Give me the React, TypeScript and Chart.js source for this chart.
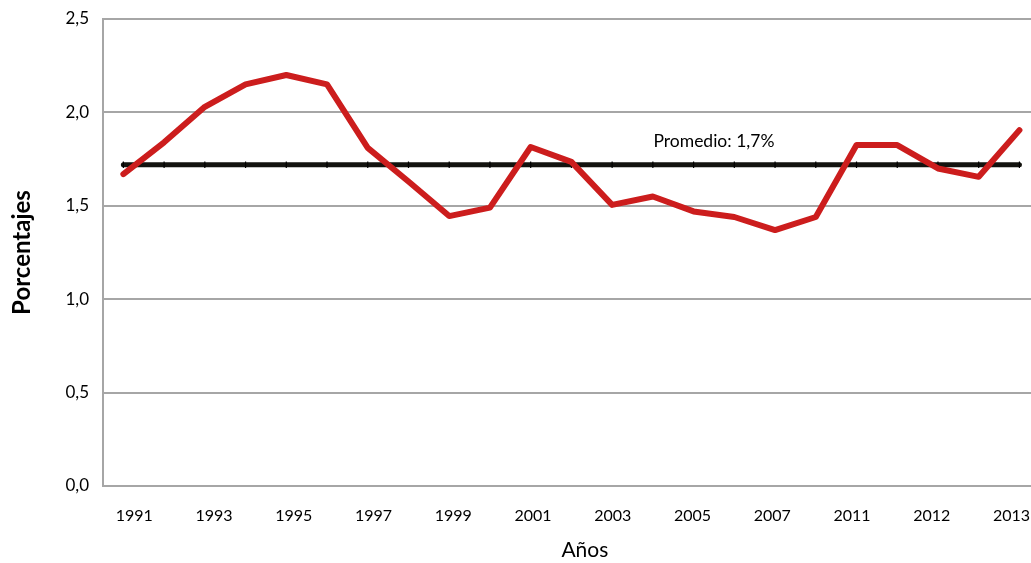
import React, { useEffect, useRef } from 'react';
import { Chart, registerables } from 'chart.js';

Chart.register(...registerables);

const categories = [
  '1991', '1992', '1993', '1994', '1995', '1996', '1997', '1998', '1999', '2000',
  '2001', '2002', '2003', '2004', '2005', '2006', '2007', '2008', '2011', '2011',
  '2012', '2012', '2013',
];

const tasaValues = [
  1.67, 1.84, 2.03, 2.15, 2.2, 2.15, 1.81, 1.63, 1.445, 1.49,
  1.815, 1.735, 1.505, 1.55, 1.47, 1.44, 1.37, 1.44, 1.825, 1.825,
  1.7, 1.655, 1.905,
];

const promedioValues = [
  1.72, 1.72, 1.72, 1.72, 1.72, 1.72, 1.72, 1.72, 1.72, 1.72,
  1.72, 1.72, 1.72, 1.72, 1.72, 1.72, 1.72, 1.72, 1.72, 1.72,
  1.72, 1.72, 1.72,
];

const yearTickLabels = [
  '1991', '1993', '1995', '1997', '1999', '2001', '2003', '2005', '2007', '2011', '2012', '2013',
];

const promedioLabel = 'Promedio: 1,7%';
const promedioLabelValue = 1.845;
const promedioLabelIndex = 14.5;
const xTitle = 'Años';

const FONT = 'Lato';

const labelPlugin = {
  id: 'promedioLabel',
  afterDatasetsDraw(chart: any) {
    const { ctx, scales } = chart;
    const i0 = Math.floor(promedioLabelIndex);
    const frac = promedioLabelIndex - i0;
    const x =
      scales.x.getPixelForValue(i0) * (1 - frac) + scales.x.getPixelForValue(i0 + 1) * frac;
    const y = scales.y.getPixelForValue(promedioLabelValue);
    ctx.save();
    ctx.font = `17.5px ${FONT}`;
    ctx.fillStyle = '#000';
    ctx.textAlign = 'center';
    ctx.textBaseline = 'middle';
    ctx.fillText(promedioLabel, x, y);
    // x-axis title
    const tx = scales.x2.getPixelForValue(5.65);
    ctx.font = `21px ${FONT}`;
    ctx.fillText(xTitle, tx, scales.x2.bottom - 13);
    ctx.restore();
  },
};

export default function App() {
  const canvasRef = useRef<HTMLCanvasElement | null>(null);

  useEffect(() => {
    if (!canvasRef.current) return;
    const chart = new Chart(canvasRef.current, {
      type: 'line',
      data: {
        labels: categories,
        datasets: [
          {
            label: 'Tasa',
            data: tasaValues,
            borderColor: '#CC1D1D',
            backgroundColor: '#CC1D1D',
            borderWidth: 6,
            pointRadius: 0,
            tension: 0,
            borderCapStyle: 'round',
            borderJoinStyle: 'round',
            order: 0,
          },
          {
            label: 'Promedio',
            data: promedioValues,
            borderColor: '#13130f',
            backgroundColor: '#13130f',
            borderWidth: 5,
            pointStyle: 'line',
            rotation: 90,
            pointRadius: 3.2,
            pointBorderWidth: 1.2,
            pointBorderColor: '#000',
            borderCapStyle: 'round',
            order: 1,
          },
        ],
      } as any,
      options: {
        animation: false,
        responsive: false,
        devicePixelRatio: 1,
        layout: { padding: { top: 19, left: 0, right: 0, bottom: 0 } },
        plugins: {
          legend: { display: false },
          tooltip: { enabled: false },
        },
        scales: {
          x: {
            display: false,
            offset: true,
          },
          x2: {
            type: 'linear',
            axis: 'x',
            position: 'bottom',
            min: -0.392,
            max: 11.354,
            grid: { display: false, drawTicks: false },
            border: { display: false },
            afterBuildTicks: (s: any) => {
              s.ticks = yearTickLabels.map((_, i) => ({ value: i }));
            },
            ticks: {
              autoSkip: false,
              maxRotation: 0,
              padding: 20,
              color: '#000',
              font: { family: FONT, size: 16 },
              callback: (v: any) => yearTickLabels[v] ?? '',
            },
            afterFit: (s: any) => {
              s.height = 77;
              s.paddingLeft = 0;
              s.paddingRight = 0;
            },
          },
          y: {
            min: 0,
            max: 2.5,
            ticks: {
              stepSize: 0.5,
              padding: 14,
              color: '#000',
              font: { family: FONT, size: 17 },
              callback: (v: any) => Number(v).toFixed(1).replace('.', ','),
            },
            grid: { color: '#A6A6A6', lineWidth: 2, drawTicks: false },
            border: { color: '#A6A6A6', width: 2 },
            title: {
              display: true,
              text: 'Porcentajes',
              color: '#000',
              font: { family: FONT, size: 24, weight: 'bold' },
              padding: { top: 8, bottom: 0 },
            },
            afterFit: (s: any) => {
              s.width = 103;
              s.paddingTop = 0;
              s.paddingBottom = 0;
            },
          },
        } as any,
      },
      plugins: [labelPlugin],
    });
    return () => chart.destroy();
  }, []);

  return (
    <div
      style={{
        position: 'absolute',
        left: 0,
        top: 0,
        width: 1031,
        height: 563,
        overflow: 'hidden',
        background: '#fff',
      }}
    >
      <canvas
        ref={canvasRef}
        width={1045}
        height={563}
        style={{ display: 'block', width: 1045, height: 563 }}
      />
    </div>
  );
}
